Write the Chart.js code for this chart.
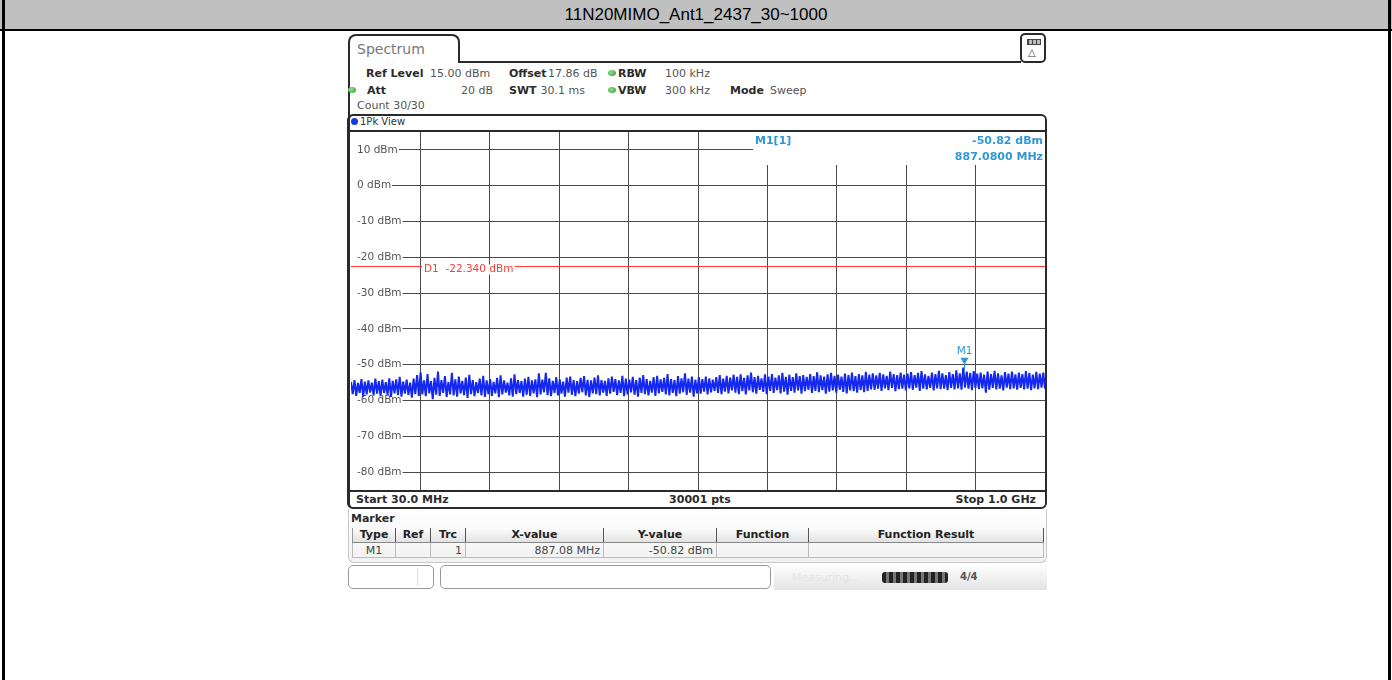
<!DOCTYPE html>
<html>
<head>
<meta charset="utf-8">
<script src="https://cdn.jsdelivr.net/npm/chart.js@4.4.1/dist/chart.umd.min.js"></script>
<style>
  body { margin:0; width:1392px; height:680px; position:relative; overflow:hidden; background:#fff; font-family:'DejaVu Sans', Verdana, sans-serif; }
  .abs { position:absolute; box-sizing:border-box; }
  .t { position:absolute; white-space:nowrap; line-height:1; font-size:11px; color:#555; }
  .b { font-weight:bold; color:#2b2b2b; }
  #title { left:0; top:0; width:1392px; height:31px; background:#c0c0c0; border-bottom:2px solid #000; font-family:'Liberation Sans', Arial, sans-serif; font-size:17px; line-height:30px; text-align:center; color:#000; }
  .dot { position:absolute; width:8px; height:6px; border-radius:50%; background:radial-gradient(circle at 40% 35%, #8fe08f, #2e9a35); }
  #mk { position:absolute; left:352px; top:528px; width:691px; border-collapse:collapse; table-layout:fixed; font-size:11px; }
  #mk th { height:14px; padding:0 3px; font-weight:bold; color:#222; border-left:1px solid #555; border-bottom:1px solid #888; background:linear-gradient(#fcfcfc,#e2e2e2); line-height:14px; text-align:center; }
  #mk th:first-child { border-left:1px solid #999; }
  #mk th:last-child { border-right:1px solid #555; }
  #mk td { height:14px; padding:0 3px; color:#444; border:1px solid #bbb; line-height:13px; text-align:right; }
</style>
</head>
<body>
<div id="title" class="abs">11N20MIMO_Ant1_2437_30~1000</div>
<div class="abs" style="left:2px;top:0;width:3px;height:680px;background:#000"></div>
<div class="abs" style="left:1388px;top:0;width:3px;height:680px;background:#000"></div>

<!-- instrument tab + header -->
<div class="abs" style="left:348px;top:34px;width:112px;height:29px;border:2px solid #2a2a2a;border-bottom:none;border-radius:8px 8px 0 0"></div>
<div class="abs" style="left:458px;top:61px;width:563px;height:2px;background:#2a2a2a"></div>
<div class="abs" style="left:348px;top:50px;width:2px;height:70px;background:#2a2a2a"></div>
<div class="abs" style="left:1020px;top:33px;width:26px;height:30px;border:2px solid #2a2a2a;border-radius:5px"></div>
<div class="abs" style="left:1027px;top:39px;width:14px;height:6px;border:1px solid #444;background:repeating-linear-gradient(90deg,#444 0 1px,#bbb 1px 4px)"></div>
<div class="t" style="left:1028px;top:48px;font-size:10px;color:#444">&#9651;</div>

<!-- plot frame -->
<div class="abs" style="left:347px;top:114px;width:700px;height:395px;border:2px solid #2a2a2a;border-left-width:3px;border-radius:6px"></div>
<div class="abs" style="left:348px;top:130px;width:698px;height:2px;background:#2a2a2a"></div>
<div class="abs" style="left:348px;top:490px;width:698px;height:2px;background:#2a2a2a"></div>
<canvas id="spec" width="694" height="358" style="position:absolute;left:351px;top:132px"></canvas>

<!-- marker box + status bar -->
<div class="abs" style="left:348px;top:509px;width:699px;height:54px;border:1px solid #c8c8c8;border-top:none;border-radius:0 0 6px 6px;background:linear-gradient(#fff,#f2f2f2)"></div>
<table id="mk">
  <colgroup><col style="width:43px"><col style="width:35px"><col style="width:35px"><col style="width:138px"><col style="width:113px"><col style="width:92px"><col style="width:235px"></colgroup>
  <tr><th>Type</th><th>Ref</th><th>Trc</th><th>X-value</th><th>Y-value</th><th>Function</th><th>Function Result</th></tr>
  <tr><td style="text-align:center">M1</td><td></td><td>1</td><td>887.08 MHz</td><td>-50.82 dBm</td><td></td><td></td></tr>
</table>
<div class="abs" style="left:348px;top:565px;width:86px;height:24px;border:1px solid #999;border-radius:5px"></div>
<div class="abs" style="left:417px;top:568px;width:1px;height:18px;background:#ddd"></div>
<div class="abs" style="left:440px;top:565px;width:331px;height:24px;border:1px solid #999;border-radius:5px"></div>
<div class="abs" style="left:774px;top:565px;width:273px;height:25px;background:linear-gradient(#fdfdfd,#e4e4e4)"></div>
<div class="abs" style="left:882px;top:572px;width:66px;height:11px;border-radius:3px;background:repeating-linear-gradient(90deg,#222 0 4px,#777 4px 7px)"></div>

<script>
// sweep settings
const startMHz = 30;
const stopMHz = 1000;
const refLevelDbm = 15;
const bottomDbm = -85;

// grid / tick labels
const xGridMHz = [127, 224, 321, 418, 515, 612, 709, 806, 903];
const yTickDbm = [10, 0, -10, -20, -30, -40, -50, -60, -70, -80];

// display line and marker
const d1LevelDbm = -22.34;
const markerFreqMHz = 887.08;
const markerLevelDbm = -50.82;

// trace 1 (peak), equally spaced over the sweep
const levelDbm = [
  -54.8,-58.2,-54.3,-58.7,-55.1,-57.9,-54.0,-58.9,-54.7,-58.3,-54.4,-57.8,-55.0,-58.6,-53.9,-58.1,-54.6,-58.8,-54.2,-57.9,
  -54.9,-58.4,-53.8,-59.0,-54.5,-58.0,-54.1,-58.5,-53.4,-58.9,-54.7,-58.1,-54.2,-58.4,-55.0,-59.2,-53.9,-58.2,-52.9,-58.7,
  -52.1,-58.3,-54.4,-58.8,-52.6,-58.0,-54.6,-59.6,-53.7,-58.4,-51.9,-58.7,-54.3,-57.9,-53.2,-59.0,-54.8,-58.3,-52.3,-58.6,
  -54.1,-58.9,-53.3,-58.0,-54.5,-58.5,-53.6,-59.3,-52.8,-58.2,-54.3,-58.8,-54.9,-57.9,-53.9,-58.6,-53.1,-59.0,-54.4,-58.2,
  -54.0,-58.7,-54.8,-58.0,-53.7,-59.1,-53.0,-58.3,-54.4,-57.8,-55.0,-58.6,-53.8,-58.9,-52.7,-58.2,-54.3,-57.9,-54.6,-58.9,
  -53.9,-58.4,-53.4,-58.7,-54.4,-58.0,-54.1,-59.1,-52.4,-58.3,-54.2,-57.7,-52.3,-58.5,-53.8,-58.8,-54.5,-57.9,-53.5,-58.6,
  -54.1,-58.1,-54.7,-58.9,-53.6,-57.8,-53.3,-58.4,-54.3,-58.8,-54.6,-58.1,-53.7,-57.7,-53.2,-58.6,-54.2,-59.0,-54.4,-58.0,
  -53.6,-58.2,-53.0,-58.6,-54.3,-57.8,-54.5,-58.7,-53.8,-58.1,-53.3,-57.6,-54.0,-58.5,-54.4,-57.9,-53.1,-58.8,-53.9,-58.3,
  -54.2,-57.7,-53.4,-58.4,-54.3,-58.9,-53.6,-57.9,-52.9,-58.2,-54.0,-58.6,-54.5,-57.8,-53.5,-58.7,-53.1,-58.0,-54.1,-57.6,
  -53.7,-58.3,-52.6,-58.6,-54.0,-57.9,-54.3,-58.8,-53.2,-58.1,-53.8,-57.7,-52.4,-58.4,-53.9,-57.8,-53.3,-58.9,-54.2,-58.0,
  -53.5,-58.1,-54.0,-57.5,-53.3,-58.3,-53.8,-57.7,-54.2,-57.3,-53.5,-57.9,-52.9,-58.2,-53.9,-57.5,-53.1,-58.0,-53.6,-57.2,
  -52.8,-57.8,-53.4,-58.2,-52.7,-57.4,-53.7,-58.3,-53.0,-57.2,-52.2,-57.7,-53.5,-58.1,-53.1,-57.0,-53.8,-57.6,-52.7,-58.2,
  -53.3,-57.3,-52.6,-57.9,-53.6,-57.1,-53.0,-58.0,-52.3,-57.5,-53.4,-58.4,-52.8,-57.3,-53.5,-57.8,-52.4,-57.2,-53.2,-58.1,
  -52.9,-57.4,-53.4,-57.0,-52.6,-57.9,-53.2,-57.3,-52.1,-57.7,-53.0,-57.1,-53.3,-58.1,-52.7,-57.5,-52.3,-57.2,-53.1,-57.8,
  -52.8,-57.0,-53.3,-57.6,-52.5,-58.0,-52.9,-57.2,-52.2,-57.4,-53.2,-57.8,-52.6,-57.1,-53.0,-57.7,-52.0,-57.3,-52.8,-56.9,
  -52.4,-57.0,-53.0,-56.7,-52.3,-57.3,-52.7,-56.6,-53.1,-57.1,-51.9,-56.5,-52.6,-57.4,-52.9,-56.8,-52.2,-56.7,-52.8,-57.2,
  -52.5,-56.6,-52.1,-57.0,-52.9,-56.4,-52.3,-57.3,-51.8,-56.7,-52.7,-56.9,-53.1,-56.5,-52.2,-57.2,-52.6,-56.6,-51.7,-56.8,
  -52.4,-56.7,-52.9,-57.1,-52.1,-56.5,-52.6,-56.9,-51.6,-56.6,-52.4,-57.0,-50.82,-56.4,-51.9,-56.7,-52.3,-57.1,-51.8,-56.5,
  -52.5,-56.8,-52.2,-56.6,-52.8,-57.8,-51.9,-57.0,-52.6,-56.5,-51.7,-56.9,-52.4,-56.7,-53.0,-57.2,-52.1,-56.4,-52.5,-56.8,
  -51.9,-56.6,-52.7,-57.0,-52.2,-56.5,-52.6,-56.9,-51.8,-56.7,-52.3,-57.1,-52.8,-56.6,-52.0,-56.8,-52.5,-56.4,-52.2,-56.7
];

// header / footer text: [x, centerY, text, bold, align, extra css]
const screenTexts = [
  [357, 49, 'Spectrum', false, 'left', 'font-size:14px;color:#777'],
  [366, 73, 'Ref Level', true, 'left'], [430, 73, '15.00 dBm', false, 'left'],
  [509, 73, 'Offset', true, 'left'], [548, 73, '17.86 dB', false, 'left'],
  [618, 73, 'RBW', true, 'left'], [665, 73, '100 kHz', false, 'left'],
  [367, 90, 'Att', true, 'left'], [493, 90, '20 dB', false, 'right'],
  [509, 90, 'SWT', true, 'left'], [585, 90, '30.1 ms', false, 'right'],
  [618, 90, 'VBW', true, 'left'], [665, 90, '300 kHz', false, 'left'],
  [730, 90, 'Mode', true, 'left'], [770, 90, 'Sweep', false, 'left'],
  [357, 105, 'Count 30/30', false, 'left'],
  [360, 122, '1Pk View', false, 'left', 'font-size:10px;color:#333'],
  [356, 499, 'Start 30.0 MHz', true, 'left'],
  [700, 499, '30001 pts', true, 'center'],
  [1036, 499, 'Stop 1.0 GHz', true, 'right'],
  [351, 518, 'Marker', true, 'left'],
  [792, 577, 'Measuring...', false, 'left', 'color:#e4e4e4'],
  [960, 577, '4/4', true, 'left', 'font-size:10px;color:#555']
];

screenTexts.forEach(([x, y, s, bold, align, extra]) => {
  const el = document.createElement('div');
  el.className = 't' + (bold ? ' b' : '');
  el.textContent = s;
  let tr = 'translateY(-50%)';
  if (align === 'right') tr = 'translate(-100%,-50%)';
  if (align === 'center') tr = 'translate(-50%,-50%)';
  el.style.cssText = `left:${x}px;top:${y}px;transform:${tr};` + (extra || '');
  document.body.appendChild(el);
});

[[612, 73], [612, 90], [352, 90]].forEach(([x, y]) => {
  const d = document.createElement('div');
  d.className = 'dot';
  d.style.left = (x - 4) + 'px';
  d.style.top = (y - 3) + 'px';
  document.body.appendChild(d);
});
const blueDot = document.createElement('div');
blueDot.className = 'abs';
blueDot.style.cssText = 'left:351px;top:118px;width:7px;height:7px;border-radius:50%;background:#1a36e0';
document.body.appendChild(blueDot);

// sweep point frequencies
const freqMHz = levelDbm.map((_, i) => startMHz + i * (stopMHz - startMHz) / (levelDbm.length - 1));

const MARKER_BLUE = '#2f97d8';

const overlay = {
  id: 'overlay',
  beforeDatasetsDraw(chart) {
    const { ctx, chartArea: a, scales: { x, y } } = chart;
    ctx.save();
    // marker readout box hides the grid in the top right
    ctx.fillStyle = '#fff';
    ctx.fillRect(a.right - 292, a.top, 292, 33);
    // level labels
    ctx.font = '10.5px "DejaVu Sans"';
    ctx.textBaseline = 'middle';
    yTickDbm.forEach(v => {
      const py = y.getPixelForValue(v);
      const s = v + ' dBm';
      const w = ctx.measureText(s).width;
      ctx.fillStyle = '#fff';
      ctx.fillRect(a.left, py - 6, w + 7, 12);
      ctx.fillStyle = '#555';
      ctx.fillText(s, a.left + 6, py);
    });
    // display line D1
    const dy = Math.round(y.getPixelForValue(d1LevelDbm)) + 0.5;
    ctx.strokeStyle = '#ff3b3b';
    ctx.lineWidth = 1;
    ctx.beginPath();
    ctx.moveTo(a.left, dy);
    ctx.lineTo(a.right, dy);
    ctx.stroke();
    const d1Text = 'D1  -22.340 dBm';
    const dw = ctx.measureText(d1Text).width;
    ctx.fillStyle = '#fff';
    ctx.fillRect(a.left + 71, dy - 2, dw + 3, 10);
    ctx.fillStyle = '#ff3b3b';
    ctx.fillText(d1Text, a.left + 73, dy + 3);
    // marker readout
    ctx.fillStyle = MARKER_BLUE;
    ctx.font = 'bold 11px "DejaVu Sans"';
    ctx.textAlign = 'left';
    ctx.fillText('M1[1]', a.right - 290, a.top + 9);
    ctx.textAlign = 'right';
    ctx.fillText(markerLevelDbm.toFixed(2) + ' dBm', a.right - 2, a.top + 9);
    ctx.fillText(markerFreqMHz.toFixed(4) + ' MHz', a.right - 2, a.top + 25);
    ctx.restore();
  },
  afterDatasetsDraw(chart) {
    const { ctx, scales: { x, y } } = chart;
    const mx = Math.round(x.getPixelForValue(markerFreqMHz)) + 0.5;
    const my = y.getPixelForValue(markerLevelDbm);
    ctx.save();
    ctx.strokeStyle = MARKER_BLUE;
    ctx.fillStyle = MARKER_BLUE;
    ctx.lineWidth = 1;
    ctx.beginPath();
    ctx.moveTo(mx, my - 4);
    ctx.lineTo(mx, my + 4);
    ctx.stroke();
    ctx.beginPath();
    ctx.moveTo(mx - 4, my - 10);
    ctx.lineTo(mx + 4, my - 10);
    ctx.lineTo(mx, my - 3);
    ctx.closePath();
    ctx.fill();
    ctx.font = '10.5px "DejaVu Sans"';
    ctx.textAlign = 'center';
    ctx.textBaseline = 'middle';
    ctx.fillText('M1', mx, my - 16);
    ctx.restore();
  }
};

const gridOpts = { color: '#4a4a4a', lineWidth: 1, drawTicks: false };

new Chart(document.getElementById('spec'), {
  type: 'line',
  data: {
    datasets: [{
      data: freqMHz.map((f, i) => ({ x: f, y: levelDbm[i] })),
      borderColor: 'rgb(20,40,240)',
      borderWidth: 2,
      borderJoinStyle: 'bevel',
      pointRadius: 0,
      tension: 0
    }]
  },
  options: {
    responsive: false,
    animation: false,
    layout: { padding: 0 },
    plugins: { legend: { display: false }, tooltip: { enabled: false } },
    scales: {
      x: {
        type: 'linear', min: startMHz, max: stopMHz,
        afterBuildTicks: s => { s.ticks = xGridMHz.map(v => ({ value: v })); },
        ticks: { display: false }, grid: gridOpts, border: { display: false }
      },
      y: {
        min: bottomDbm, max: refLevelDbm,
        afterBuildTicks: s => { s.ticks = yTickDbm.map(v => ({ value: v })); },
        ticks: { display: false }, grid: gridOpts, border: { display: false }
      }
    }
  },
  plugins: [overlay]
});
</script>
</body>
</html>
